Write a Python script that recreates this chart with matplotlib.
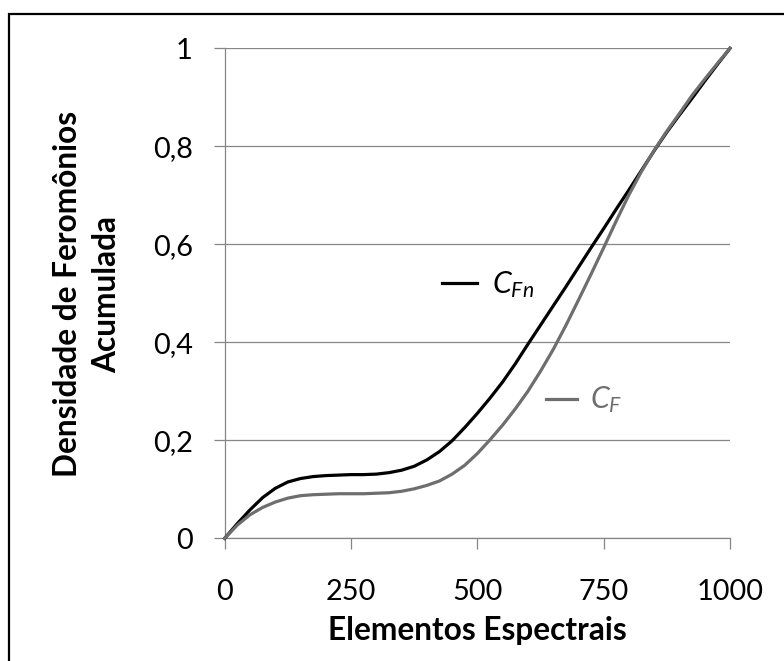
import matplotlib.pyplot as plt
from matplotlib.patches import Rectangle

plt.rcParams['font.family'] = ['Lato', 'DejaVu Sans']
plt.rcParams['mathtext.fontset'] = 'custom'
plt.rcParams['mathtext.it'] = 'Lato:italic'
plt.rcParams['mathtext.rm'] = 'Lato'

# Elementos espectrais (eixo x)
x = [0, 25, 50, 75, 100, 125, 150, 175, 200, 225, 250, 275, 300, 325, 350,
     375, 400, 425, 450, 475, 500, 525, 550, 575, 600, 625, 650, 675, 700,
     725, 750, 775, 800, 825, 850, 875, 900, 925, 950, 975, 1000]

# Densidade acumulada normalizada (C_Fn)
c_fn = [0.000, 0.030, 0.058, 0.083, 0.102, 0.115, 0.122, 0.126, 0.128, 0.129,
        0.130, 0.130, 0.131, 0.134, 0.139, 0.147, 0.160, 0.177, 0.199, 0.226,
        0.255, 0.286, 0.319, 0.356, 0.396, 0.435, 0.474, 0.513, 0.553, 0.593,
        0.632, 0.672, 0.711, 0.751, 0.791, 0.829, 0.864, 0.898, 0.933, 0.967,
        1.000]

# Densidade acumulada (C_F)
c_f = [0.000, 0.027, 0.048, 0.063, 0.074, 0.082, 0.087, 0.089, 0.090, 0.091,
       0.091, 0.091, 0.092, 0.093, 0.096, 0.101, 0.108, 0.117, 0.131, 0.149,
       0.173, 0.201, 0.231, 0.264, 0.300, 0.341, 0.385, 0.434, 0.486, 0.539,
       0.593, 0.648, 0.701, 0.749, 0.792, 0.831, 0.867, 0.904, 0.937, 0.969,
       1.000]

x_ticks = [0, 250, 500, 750, 1000]
y_ticks = [0, 0.2, 0.4, 0.6, 0.8, 1.0]
y_ticklabels = ['0', '0,2', '0,4', '0,6', '0,8', '1']

grid_gray = '#868686'
curve_gray = '#6e6e6e'
fs = 20.8
fs_title = 22.8

fig = plt.figure(figsize=(7.84, 6.61), dpi=100)
ax = fig.add_axes([0.2866, 0.1856, 0.6445, 0.7413])

ax.plot(x, c_fn, color='black', linewidth=2.3, clip_on=False, zorder=3)
ax.plot(x, c_f, color=curve_gray, linewidth=2.3, clip_on=False, zorder=3)

ax.set_xlim(0, 1000)
ax.set_ylim(0, 1)
ax.set_xticks(x_ticks)
ax.set_xticklabels([str(t) for t in x_ticks])
ax.set_yticks(y_ticks)
ax.set_yticklabels(y_ticklabels)

ax.grid(axis='y', color=grid_gray, linewidth=0.9)
ax.set_axisbelow(True)
for side in ['top', 'right']:
    ax.spines[side].set_visible(False)
for side in ['left', 'bottom']:
    ax.spines[side].set_color(grid_gray)
    ax.spines[side].set_linewidth(0.9)
ax.tick_params(axis='both', direction='out', length=8, width=0.9,
               color=grid_gray, labelsize=fs, labelcolor='black')
ax.tick_params(axis='x', pad=21)
ax.tick_params(axis='y', pad=15)

# Rótulos das séries com a chave de legenda
ax.plot([430, 500], [0.522, 0.522], color='black', linewidth=2.3)
ax.text(530, 0.501, r'$C_{Fn}$', fontsize=fs + 1, color='black',
        ha='left', va='baseline')
ax.plot([636, 697], [0.284, 0.284], color=curve_gray, linewidth=2.3)
ax.text(723, 0.266, r'$C_{F}$', fontsize=fs + 1, color=curve_gray,
        ha='left', va='baseline')

fig.text(0.609, 0.032, 'Elementos Espectrais', fontsize=fs_title,
         fontweight='bold', ha='center', va='baseline')
fig.text(0.111, 0.555, 'Densidade de Feromônios\nAcumulada', fontsize=fs_title,
         fontweight='bold', rotation=90, ha='center', va='center',
         multialignment='center', linespacing=1.4)

# Moldura do gráfico
fig.patches.append(Rectangle((9 / 784, -0.1), 1.2, 1 - 13.5 / 661 + 0.1,
                             transform=fig.transFigure, fill=False,
                             edgecolor='black', linewidth=1.6))

fig.savefig('out.png', dpi=100, facecolor='white')
